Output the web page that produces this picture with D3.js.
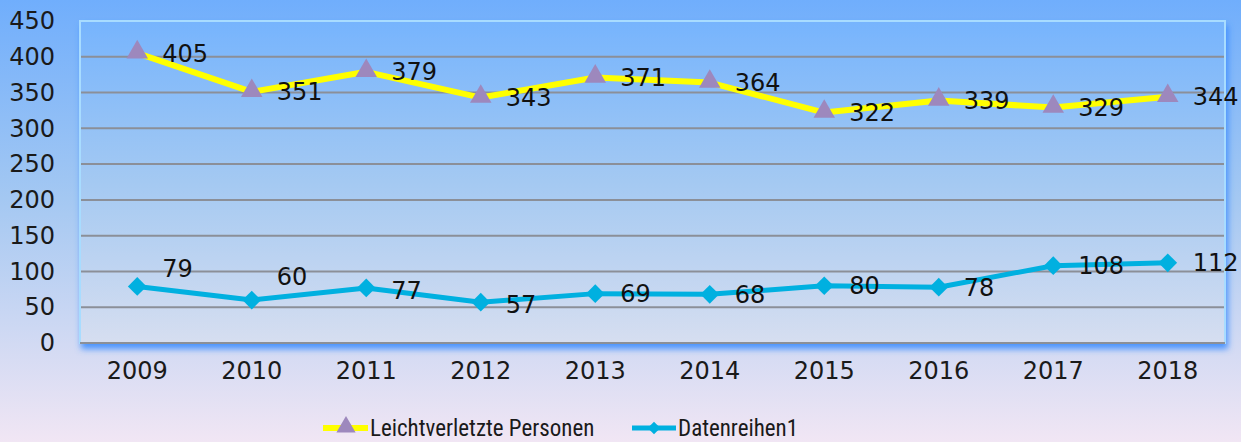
<!DOCTYPE html>
<html>
<head>
<meta charset="utf-8">
<script src="https://cdn.jsdelivr.net/npm/d3@7"></script>
<style>
  body { margin: 0; padding: 0; overflow: hidden; }
  svg { display: block; }
  .num { font-family: "DejaVu Sans", Verdana, sans-serif; }
</style>
</head>
<body>
<div id="chart"></div>
<script>
// data
const years = ['2009', '2010', '2011', '2012', '2013', '2014', '2015', '2016', '2017', '2018'];
const leichtverletzte = [405, 351, 379, 343, 371, 364, 322, 339, 329, 344];
const datenreihen1 = [79, 60, 77, 57, 69, 68, 80, 78, 108, 112];
const yTicks = [0, 50, 100, 150, 200, 250, 300, 350, 400, 450];
const seriesNames = ['Leichtverletzte Personen', 'Datenreihen1'];
// small vertical nudges for the lower labels (as placed in the original)
const lowerLabelNudge = [-18, -24, 2, 2, 0, 0, 0, 0, 0, 0];

const width = 1241, height = 442;
const margin = {top: 21, right: 16, bottom: 99, left: 80};
const innerW = width - margin.left - margin.right;
const innerH = height - margin.top - margin.bottom;
const numSize = '24px';

const svg = d3.select('#chart').append('svg')
    .attr('width', width)
    .attr('height', height);

const defs = svg.append('defs');

// background gradient
const bg = defs.append('linearGradient').attr('id', 'bg')
    .attr('x1', 0).attr('y1', 0).attr('x2', 0).attr('y2', 1);
bg.append('stop').attr('offset', '0%').attr('stop-color', '#70aefc');
bg.append('stop').attr('offset', '45%').attr('stop-color', '#a4c8f2');
bg.append('stop').attr('offset', '100%').attr('stop-color', '#f1e6f4');

// plot area gradient
const pg = defs.append('linearGradient').attr('id', 'plotbg')
    .attr('x1', 0).attr('y1', 0).attr('x2', 0).attr('y2', 1);
pg.append('stop').attr('offset', '0%').attr('stop-color', '#76b4fd');
pg.append('stop').attr('offset', '50%').attr('stop-color', '#a4c9f2');
pg.append('stop').attr('offset', '100%').attr('stop-color', '#d6def0');

const shadow = defs.append('filter').attr('id', 'shadow')
    .attr('x', '-5%').attr('y', '-5%').attr('width', '110%').attr('height', '115%');
shadow.append('feDropShadow')
    .attr('dx', 2).attr('dy', 5).attr('stdDeviation', 3)
    .attr('flood-color', '#3a8cff').attr('flood-opacity', 0.9);

svg.append('rect')
    .attr('width', width).attr('height', height)
    .attr('fill', 'url(#bg)');

const g = svg.append('g')
    .attr('transform', `translate(${margin.left},${margin.top})`);

// scales
const xScale = d3.scaleBand().domain(years).range([0, innerW]);
const yScale = d3.scaleLinear().domain([0, 450]).range([innerH, 0]);
const xPos = d => xScale(d) + xScale.bandwidth() / 2;

// plot area
g.append('rect')
    .attr('width', innerW).attr('height', innerH)
    .attr('fill', 'url(#plotbg)')
    .attr('stroke', '#a8dcff')
    .attr('stroke-width', 2)
    .attr('filter', 'url(#shadow)');

// gridlines
g.selectAll('.grid').data(yTicks.filter(t => t > 0 && t < 450))
    .join('line')
    .attr('class', 'grid')
    .attr('x1', 1).attr('x2', innerW - 1)
    .attr('y1', d => yScale(d)).attr('y2', d => yScale(d))
    .attr('stroke', '#8b8f98')
    .attr('stroke-width', 2);

g.append('line')
    .attr('x1', 0).attr('x2', innerW)
    .attr('y1', innerH).attr('y2', innerH)
    .attr('stroke', '#8b8f98').attr('stroke-width', 2);

// axes
const yAxis = d3.axisLeft(yScale).tickValues(yTicks).tickSize(0).tickPadding(25);
const yAxisG = g.append('g').call(yAxis);
yAxisG.select('.domain').remove();
yAxisG.attr('font-family', null).attr('font-size', null);
yAxisG.selectAll('text')
    .attr('class', 'num')
    .style('font-size', numSize)
    .attr('fill', '#1a1a1a');

const xAxis = d3.axisBottom(xScale).tickSize(0).tickPadding(19);
const xAxisG = g.append('g').attr('transform', `translate(0,${innerH})`).call(xAxis);
xAxisG.select('.domain').remove();
xAxisG.attr('font-family', null).attr('font-size', null);
xAxisG.selectAll('text')
    .attr('class', 'num')
    .style('font-size', numSize)
    .attr('fill', '#1a1a1a');

// lines
const line = d3.line()
    .x((d, i) => xPos(years[i]))
    .y(d => yScale(d));

g.append('path').datum(leichtverletzte)
    .attr('d', line)
    .attr('fill', 'none')
    .attr('stroke', '#ffff00')
    .attr('stroke-width', 6)
    .attr('stroke-linejoin', 'round');

g.append('path').datum(datenreihen1)
    .attr('d', line)
    .attr('fill', 'none')
    .attr('stroke', '#00b0e0')
    .attr('stroke-width', 5)
    .attr('stroke-linejoin', 'round');

// markers
const tri = d3.symbol().type(d3.symbolTriangle).size(200);
const dia = d3.symbol().type(d3.symbolSquare).size(175);

g.selectAll('.tri').data(leichtverletzte).join('path')
    .attr('class', 'tri')
    .attr('d', tri)
    .attr('transform', (d, i) => `translate(${xPos(years[i])},${yScale(d) - 1})`)
    .attr('fill', '#9d88bd');

g.selectAll('.dia').data(datenreihen1).join('path')
    .attr('class', 'dia')
    .attr('d', dia)
    .attr('transform', (d, i) => `translate(${xPos(years[i])},${yScale(d)}) rotate(45)`)
    .attr('fill', '#00b0e0');

// data labels
g.selectAll('.lab1').data(leichtverletzte).join('text')
    .attr('class', 'num')
    .attr('x', (d, i) => xPos(years[i]) + 25)
    .attr('y', d => yScale(d))
    .attr('dy', '0.36em')
    .style('font-size', numSize)
    .attr('fill', '#111')
    .text(d => d);

g.selectAll('.lab2').data(datenreihen1).join('text')
    .attr('class', 'num')
    .attr('x', (d, i) => xPos(years[i]) + 25)
    .attr('y', (d, i) => yScale(d) + lowerLabelNudge[i])
    .attr('dy', '0.36em')
    .style('font-size', numSize)
    .attr('fill', '#111')
    .text(d => d);

// legend
const legendFont = 'Liberation Sans Narrow, Roboto Condensed, sans-serif';
const legend = svg.append('g').attr('transform', 'translate(323,428)');
const leg1 = legend.append('g');
leg1.append('line').attr('x1', 0).attr('x2', 45).attr('y1', 0).attr('y2', 0)
    .attr('stroke', '#ffff00').attr('stroke-width', 6);
leg1.append('path').attr('d', d3.symbol().type(d3.symbolTriangle).size(160))
    .attr('transform', 'translate(23,-1)').attr('fill', '#9d88bd');
leg1.append('text').attr('x', 47).attr('y', 0).attr('dy', '0.35em')
    .attr('font-family', legendFont)
    .attr('font-size', 23).attr('fill', '#1a1a1a')
    .text(seriesNames[0]);

const leg2 = legend.append('g').attr('transform', 'translate(309,0)');
leg2.append('line').attr('x1', 0).attr('x2', 44).attr('y1', 0).attr('y2', 0)
    .attr('stroke', '#00b0e0').attr('stroke-width', 5);
leg2.append('path').attr('d', d3.symbol().type(d3.symbolSquare).size(80))
    .attr('transform', 'translate(22,0) rotate(45)').attr('fill', '#00b0e0');
leg2.append('text').attr('x', 46).attr('y', 0).attr('dy', '0.35em')
    .attr('font-family', legendFont)
    .attr('font-size', 23).attr('fill', '#1a1a1a')
    .text(seriesNames[1]);
</script>
</body>
</html>
